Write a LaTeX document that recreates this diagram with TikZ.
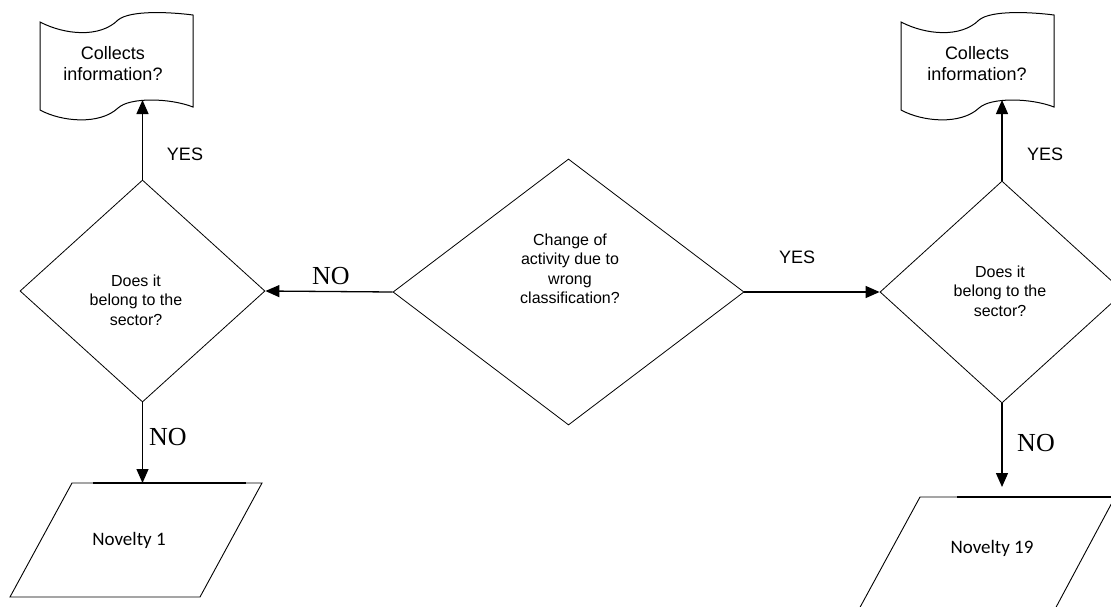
\documentclass[tikz,border=0pt]{standalone}
\usepackage{fontspec}
\setmainfont{Liberation Sans}
\newfontfamily\timesfont{Liberation Serif}
\newfontfamily\calibrifont{Carlito}
\usetikzlibrary{shapes.geometric,arrows.meta}

\tikzset{
  decision/.style={diamond, draw, line width=0.8pt, inner sep=0pt},
  doctext/.style={align=center, font=\fontsize{18}{21}\selectfont},
  docline/.style={line width=1pt},
  qtext/.style={align=center, font=\fontsize{16}{19.5}\selectfont},
  novtext/.style={font=\calibrifont\fontsize{19}{22}\selectfont},
  arr/.style={line width=1.3pt, -{Triangle[length=14pt,width=12pt]}},
  yeslab/.style={font=\fontsize{18}{21}\selectfont},
  nolab/.style={font=\timesfont\fontsize{26}{30}\selectfont},
}

\begin{document}
\begin{tikzpicture}[x=1pt,y=-1pt]
\useasboundingbox (0,0) rectangle (1111,606);

\node [decision, minimum width=245pt, minimum height=222pt] (sectorL) at (142.5,291) {};
\node [decision, minimum width=351pt, minimum height=266pt] (change) at (568.5,292) {};
\node [decision, minimum width=244pt, minimum height=222pt] (sectorR) at (1002,292) {};

\node [qtext] (qL) at (136,300) {Does it\\belong to the\\sector?};
\node [qtext] (qC) at (570,269) {Change of\\activity due to\\wrong\\classification?};
\node [qtext] (qR) at (1000,291) {Does it\\belong to the\\sector?};

% document shapes
\draw [docline] (40,22) .. controls (65,35) and (100,38) .. (118,20) .. controls (130,10) and (170,12) .. (193,15)
  -- (193,107) .. controls (170,98) and (130,97) .. (118,108) .. controls (100,125) and (62,122) .. (40,110) -- cycle;
\begin{scope}[xshift=861pt]
\draw [docline] (40,22) .. controls (65,35) and (100,38) .. (118,20) .. controls (130,10) and (170,12) .. (193,15)
  -- (193,107) .. controls (170,98) and (130,97) .. (118,108) .. controls (100,125) and (62,122) .. (40,110) -- cycle;
\end{scope}
\node [doctext] (infoL) at (113,64) {Collects\\information?};
\node [doctext] (infoR) at (977,64) {Collects\\information?};
\coordinate (inL) at (141,100);
\coordinate (inR) at (1001,100);

% novelty boxes
\draw [line width=0.9pt] (72,483) -- (262,483) -- (200,597) -- (10,597) -- cycle;
\draw [line width=2.2pt] (93,483) -- (246,483);
\draw [line width=0.9pt] (920,497) -- (1115,497) -- (1054,611) -- (858,611) -- cycle;
\draw [line width=2.2pt] (957,497) -- (1111,497);
\node [novtext] (novL) at (129,540) {Novelty 1};
\node [novtext] (novR) at (992,548) {Novelty 19};
\coordinate (outL) at (141,483);
\coordinate (outR) at (1003,487);

\draw [arr] (change.west) -- (sectorL.east);
\draw [arr] (change.east) -- (sectorR.west);
\draw [arr] (sectorL.north) -- (sectorL.north |- inL);
\draw [arr] (sectorR.north) -- (sectorR.north |- inR);
\draw [arr] (sectorL.south) -- (sectorL.south |- outL);
\draw [arr] (sectorR.south) -- (sectorR.south |- outR);

\node [yeslab] (yesL) at (185,154) {YES};
\node [yeslab] (yesR) at (1045,154) {YES};
\node [yeslab] (yesC) at (797,257) {YES};
\node [nolab] (noC) at (331,276) {NO};
\node [nolab] (noL) at (168,437) {NO};
\node [nolab] (noR) at (1036,443) {NO};
\end{tikzpicture}
\end{document}
